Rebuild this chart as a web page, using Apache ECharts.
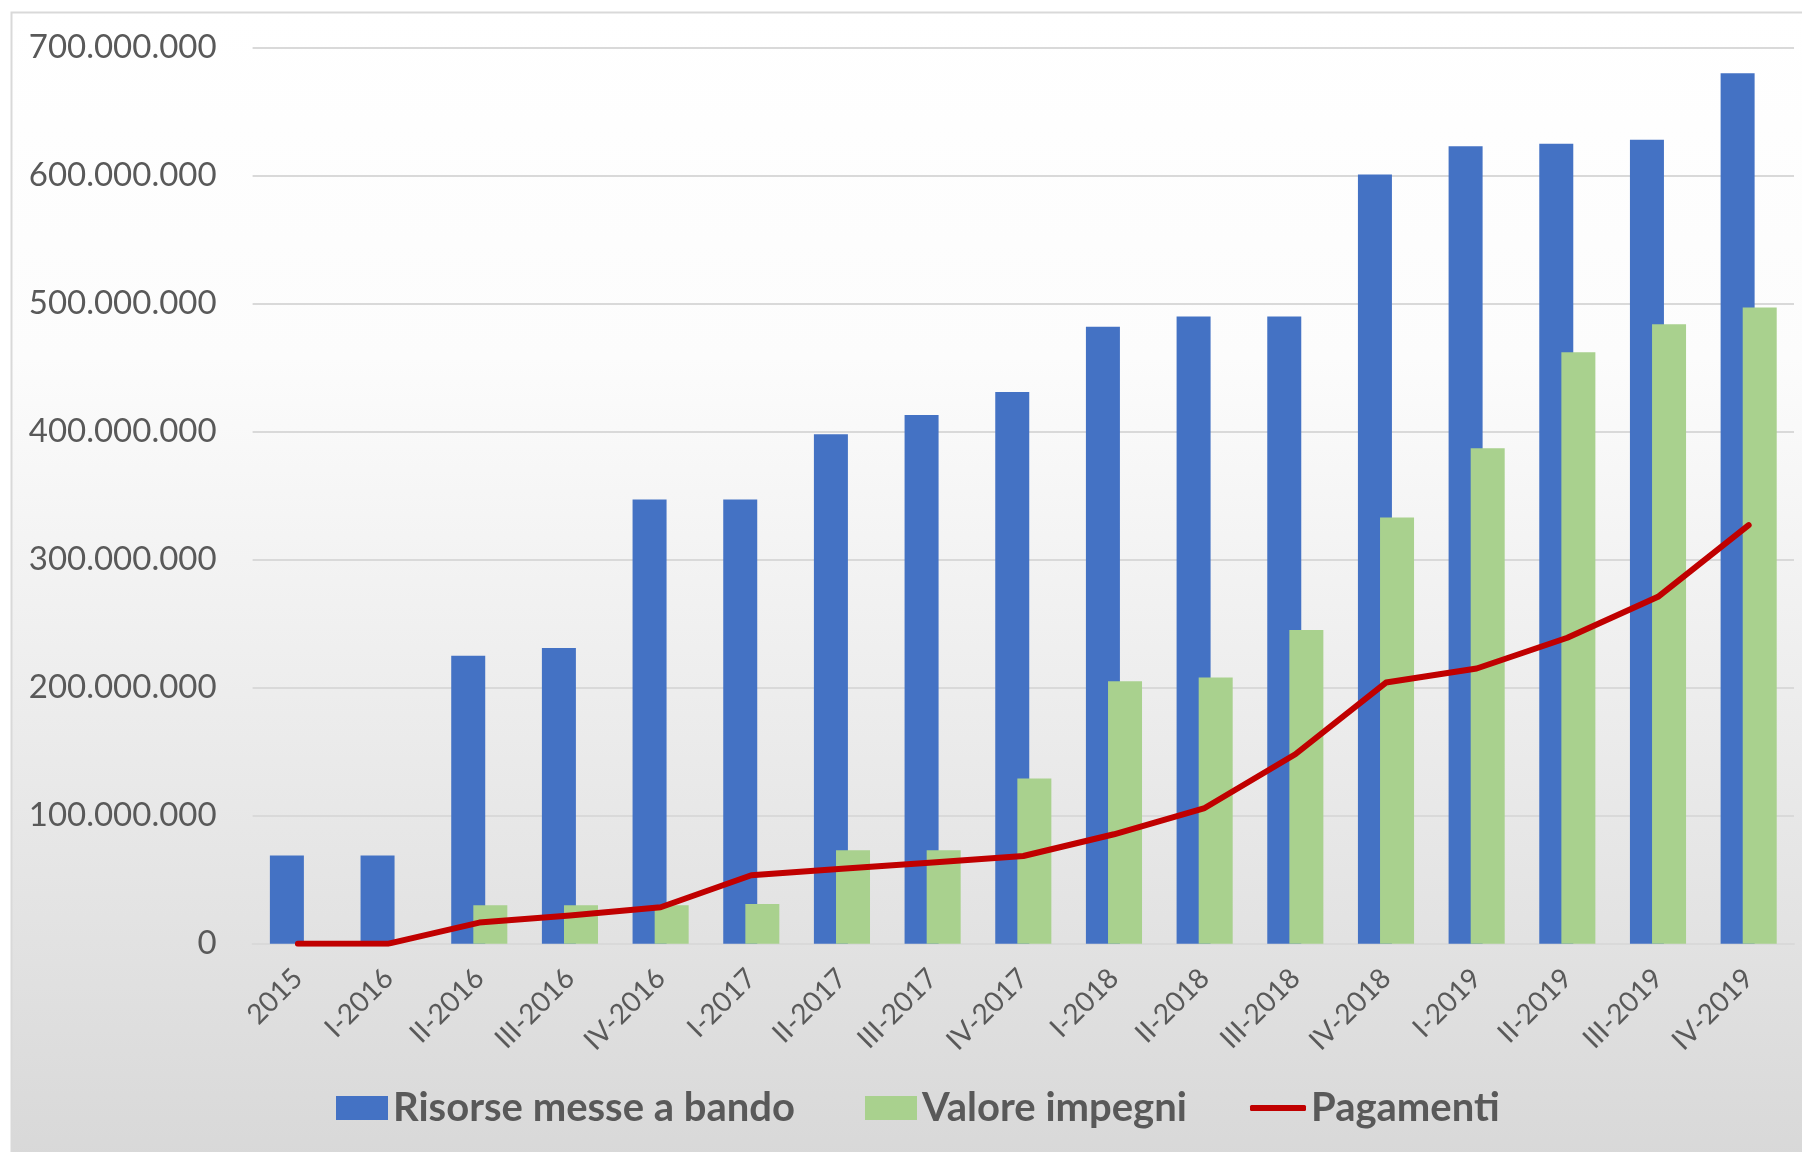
<!DOCTYPE html>
<html>
<head>
<meta charset="utf-8">
<script src="https://cdn.jsdelivr.net/npm/echarts@6/dist/echarts.min.js"></script>
<style>
html,body{margin:0;padding:0;background:#ffffff;}
#chart{width:1802px;height:1152px;}
</style>
</head>
<body>
<div id="chart"></div>
<script>
const categories = ['2015','I-2016','II-2016','III-2016','IV-2016','I-2017','II-2017','III-2017','IV-2017','I-2018','II-2018','III-2018','IV-2018','I-2019','II-2019','III-2019','IV-2019'];
const risorseMesseABando = [69000000, 69000000, 225000000, 231000000, 347000000, 347000000, 398000000, 413000000, 431000000, 482000000, 490000000, 490000000, 601000000, 623000000, 625000000, 628000000, 680000000];
const valoreImpegni = [null, null, 30000000, 30000000, 30000000, 31000000, 73000000, 73000000, 129000000, 205000000, 208000000, 245000000, 333000000, 387000000, 462000000, 484000000, 497000000];
const pagamenti = [0, 0, 16500000, 22000000, 28500000, 53500000, 58500000, 63500000, 68500000, 85500000, 106000000, 148000000, 204000000, 215000000, 239000000, 271000000, 327000000];
const yTicks = [0, 100000000, 200000000, 300000000, 400000000, 500000000, 600000000, 700000000];

const chart = echarts.init(document.getElementById('chart'), null, {renderer: 'canvas'});
const fmt = v => String(Math.round(v)).replace(/\B(?=(\d{3})+(?!\d))/g, '.');
const textColor = '#595959';
const legendText = {color: textColor, fontFamily: 'Lato', fontWeight: 'bold', fontSize: 40};

chart.setOption({
  animation: false,
  backgroundColor: '#ffffff',
  graphic: [{
    type: 'rect', z: -10, silent: true,
    shape: {x: 11.5, y: 12.5, width: 1800, height: 1150},
    style: {
      fill: new echarts.graphic.LinearGradient(0, 0, 0, 1, [
        {offset: 0, color: '#ffffff'},
        {offset: 0.3, color: '#fcfcfc'},
        {offset: 1, color: '#d8d8d8'}
      ]),
      stroke: '#d9d9d9', lineWidth: 2
    }
  }],
  grid: {left: 252.6, right: 8, top: 47.7, bottom: 208.3, containLabel: false},
  legend: [
    {data: [{name: 'Risorse messe a bando', icon: 'rect'}], left: 336, top: 1088, itemWidth: 52, itemHeight: 24, itemGap: 0, textStyle: legendText, padding: 0},
    {data: [{name: 'Valore impegni', icon: 'rect'}], left: 865, top: 1088, itemWidth: 52, itemHeight: 24, itemGap: 0, textStyle: legendText, padding: 0},
    {data: [{name: 'Pagamenti', icon: 'roundRect'}], left: 1250, top: 1088, itemWidth: 56, itemHeight: 6, itemGap: 0, textStyle: legendText, padding: 0}
  ],
  xAxis: {
    type: 'category',
    data: categories,
    boundaryGap: true,
    axisTick: {show: false},
    axisLine: {show: true, lineStyle: {color: '#d9d9d9', width: 2}},
    axisLabel: {rotate: 45, margin: 30, color: textColor, fontFamily: 'Lato', fontSize: 28, interval: 0}
  },
  yAxis: {
    type: 'value',
    min: yTicks[0], max: yTicks[yTicks.length - 1], interval: 100000000,
    axisLine: {show: false},
    axisTick: {show: false},
    splitLine: {show: true, lineStyle: {color: '#d9d9d9', width: 2}},
    axisLabel: {margin: 36, color: textColor, fontFamily: 'Lato', fontSize: 33, formatter: fmt}
  },
  series: [
    {
      name: 'Risorse messe a bando', type: 'bar', data: risorseMesseABando,
      barWidth: 34, barGap: '-35%',
      itemStyle: {color: '#4472C4'}
    },
    {
      name: 'Valore impegni', type: 'bar', data: valoreImpegni,
      barWidth: 34, barGap: '-35%',
      itemStyle: {color: '#A9D18E'}
    },
    {
      name: 'Pagamenti', type: 'line', data: pagamenti,
      symbol: 'none', showSymbol: false, z: 5,
      lineStyle: {color: '#C00000', width: 6, cap: 'round', join: 'round'},
      itemStyle: {color: '#C00000'}
    }
  ]
});
</script>
</body>
</html>
